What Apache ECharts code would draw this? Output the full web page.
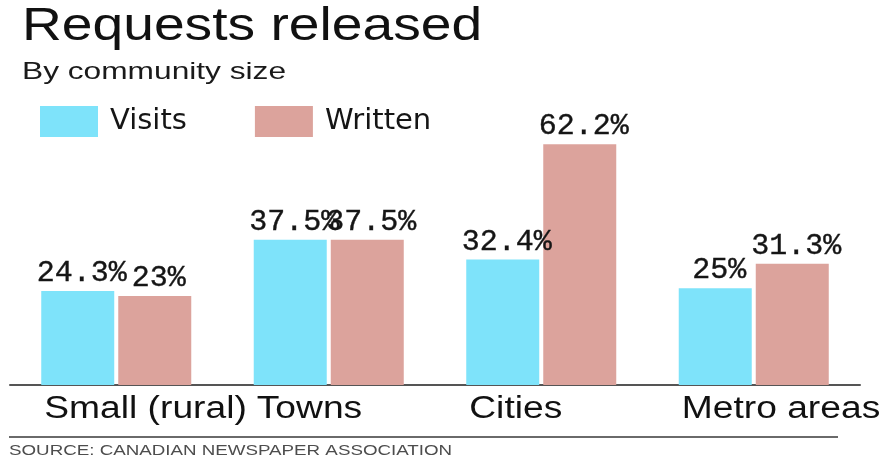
<!DOCTYPE html>
<html>
<head>
<meta charset="utf-8">
<title>Requests released</title>
<script src="https://cdn.jsdelivr.net/npm/echarts@6/dist/echarts.min.js"></script>
<style>
  html, body { margin: 0; padding: 0; background: #ffffff; }
  #chart { width: 882px; height: 458px; }
</style>
</head>
<body>
<div id="chart"></div>
<script>
// Share of access requests released, by size of community
const categories = ['Small (rural)', 'Towns', 'Cities', 'Metro areas'];
const visits = [24.3, 37.5, 32.4, 25];
const written = [23, 37.5, 62.2, 31.3];
const seriesNames = ['Visits', 'Written'];

const titleText = 'Requests released';
const subtitleText = 'By community size';
const sourceText = 'SOURCE: CANADIAN NEWSPAPER ASSOCIATION';

const SANS = '"Liberation Sans", Arial, sans-serif';
const MONO = '"Liberation Mono", "DejaVu Sans Mono", monospace';
const BLUE = '#7ee3fa';
const PINK = '#dca39c';

const chart = echarts.init(document.getElementById('chart'), null, { renderer: 'canvas' });

const barLabel = {
  show: true,
  position: 'top',
  distance: 3,
  offset: [4, 0],
  fontFamily: MONO,
  fontSize: 30,
  color: '#151515',
  textBorderColor: '#151515',
  textBorderWidth: 0.4,
  formatter: p => p.value + '%'
};

chart.setOption({
  animation: false,
  backgroundColor: '#ffffff',
  grid: { left: 10, right: 22, top: 114, bottom: 73, containLabel: false },
  legend: {
    data: seriesNames,
    left: 40,
    top: 106,
    padding: 0,
    itemWidth: 58,
    itemHeight: 31,
    itemGap: 68,
    icon: 'rect',
    selectedMode: false,
    textStyle: {
      fontFamily: '"DejaVu Sans", sans-serif',
      fontSize: 29,
      color: '#151515',
      padding: [0, 0, 0, 7]
    }
  },
  xAxis: {
    type: 'category',
    data: categories,
    axisTick: { show: false },
    axisLabel: { show: false },
    axisLine: { show: true, lineStyle: { color: '#555555', width: 2 } }
  },
  yAxis: {
    type: 'value',
    min: 0,
    max: 70,
    show: false,
    splitLine: { show: false }
  },
  series: [
    {
      name: seriesNames[0],
      type: 'bar',
      data: visits,
      barWidth: 73,
      barGap: '5.5%',
      itemStyle: { color: BLUE },
      label: barLabel
    },
    {
      name: seriesNames[1],
      type: 'bar',
      data: written,
      barWidth: 73,
      barGap: '5.5%',
      itemStyle: { color: PINK },
      label: barLabel
    }
  ]
});

// Headings, category names and the source line, in a horizontally widened type
function wideText(id, text, x, y, size, scaleX, fill) {
  return {
    type: 'text',
    id: id,
    x: x,
    y: y,
    scaleX: scaleX,
    silent: true,
    style: {
      text: text,
      fontFamily: SANS,
      fontSize: size,
      fill: fill,
      align: 'left',
      verticalAlign: 'middle'
    }
  };
}

const graphics = [
  wideText('title', titleText, 22, 27.5, 47, 1.174, '#111111'),
  wideText('subtitle', subtitleText, 22, 72, 24, 1.32, '#1a1a1a'),
  wideText('source', sourceText, 9, 450.5, 15, 1.25, '#4d4d4d'),
  {
    type: 'line',
    id: 'sourceRule',
    silent: true,
    shape: { x1: 9, y1: 437, x2: 838, y2: 437 },
    style: { stroke: '#6a6a6a', lineWidth: 2 }
  }
];

// Category names start at the left edge of each pair of bars
categories.forEach((c, i) => {
  const cx = chart.convertToPixel({ xAxisIndex: 0 }, c);
  graphics.push(wideText('cat' + i, c, cx - 72, 409, 31, 1.2, '#111111'));
});

chart.setOption({ graphic: graphics });
</script>
</body>
</html>
